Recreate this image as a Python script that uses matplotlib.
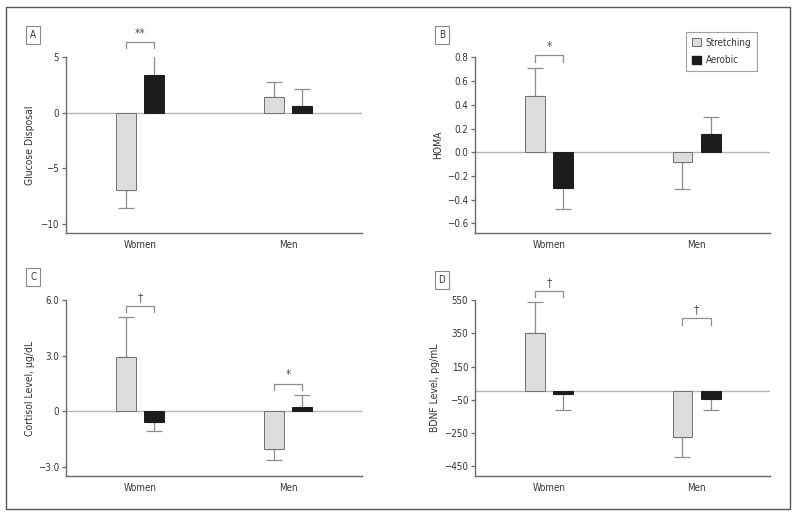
import matplotlib
matplotlib.use("Agg")
import matplotlib.pyplot as plt
from matplotlib.patches import Patch, Rectangle
import numpy as np

plt.rcParams['font.family'] = ['DejaVu Sans']
plt.rcParams['font.stretch'] = 'condensed'
plt.rcParams['font.size'] = 7

groups = ["Women", "Men"]
series = ["Stretching", "Aerobic"]

# Panel A: Glucose Disposal
a_stretch = [-7.0, 1.41]
a_stretch_err = [1.62, 1.35]
a_aerobic = [3.36, 0.57]
a_aerobic_err = [2.04, 1.56]
a_ticks = [5, 0, -5, -10]
a_ticklabels = ["5", "0", "\u22125", "\u221210"]

# Panel B: HOMA
b_stretch = [0.47, -0.084]
b_stretch_err = [0.24, 0.227]
b_aerobic = [-0.30, 0.156]
b_aerobic_err = [0.18, 0.138]
b_ticks = [0.8, 0.6, 0.4, 0.2, 0.0, -0.2, -0.4, -0.6]
b_ticklabels = ["0.8", "0.6", "0.4", "0.2", "0.0", "\u22120.2", "\u22120.4", "\u22120.6"]

# Panel C: Cortisol
c_stretch = [2.96, -2.02]
c_stretch_err = [2.16, 0.59]
c_aerobic = [-0.56, 0.23]
c_aerobic_err = [0.52, 0.67]
c_ticks = [6.0, 3.0, 0, -3.0]
c_ticklabels = ["6.0", "3.0", "0", "\u22123.0"]

# Panel D: BDNF
d_stretch = [355, -278]
d_stretch_err = [185, 117]
d_aerobic = [-14, -44]
d_aerobic_err = [100, 71]
d_ticks = [550, 350, 150, -50, -250, -450]
d_ticklabels = ["550", "350", "150", "\u221250", "\u2212250", "\u2212450"]

# significance brackets: (group index, bracket top, leg bottom, symbol)
a_sig = [(0, 6.4, 5.83, "**")]
b_sig = [(0, 0.818, 0.76, "*")]
c_sig = [(0, 5.69, 5.37, "\u2020"), (1, 1.50, 1.14, "*")]
d_sig = [(0, 608, 571, "\u2020"), (1, 442, 403, "\u2020")]

LIGHT = "#dcdcdc"
DARK = "#1c1c1c"
EDGE = "#707070"
AXC = "#6a6a6a"
ERRC = "#8c8c8c"

fig = plt.figure(figsize=(8.0, 5.14), dpi=100)

H = 0.3418
positions = {
    "A": [0.0825, 0.5467, 0.37, H],
    "B": [0.594, 0.5467, 0.369, H],
    "C": [0.0825, 0.0739, 0.37, H],
    "D": [0.594, 0.0739, 0.369, H],
}

panels = [
    ("A", a_stretch, a_stretch_err, a_aerobic, a_aerobic_err, a_ticks, a_ticklabels, (-10.85, 5.0), "Glucose Disposal", a_sig),
    ("B", b_stretch, b_stretch_err, b_aerobic, b_aerobic_err, b_ticks, b_ticklabels, (-0.68, 0.8), "HOMA", b_sig),
    ("C", c_stretch, c_stretch_err, c_aerobic, c_aerobic_err, c_ticks, c_ticklabels, (-3.5, 6.0), "Cortisol Level, \u03bcg/dL", c_sig),
    ("D", d_stretch, d_stretch_err, d_aerobic, d_aerobic_err, d_ticks, d_ticklabels, (-512, 550), "BDNF Level, pg/mL", d_sig),
]

label_pos = {"A": (-0.111, 1.127), "B": (-0.113, 1.127), "C": (-0.111, 1.133), "D": (-0.113, 1.115)}
ylabel_x = {"A": -0.105, "B": -0.11, "C": -0.105, "D": -0.12}

bw = 0.132
off = 0.096
x = np.arange(len(groups))

for name, s, se, a, ae, ticks, tlabels, ylim, ylabel, sigs in panels:
    ax = fig.add_axes(positions[name])
    ax.axhline(0, color="#b4b4b4", lw=1.0, zorder=1)
    xs = x - off
    xa = x + off
    ax.bar(xs, s, width=bw, color=LIGHT, edgecolor=EDGE, linewidth=0.7, zorder=3)
    ax.bar(xa, a, width=bw, color=DARK, edgecolor=DARK, linewidth=0.7, zorder=3)
    for xx, vals, errs in ((xs, s, se), (xa, a, ae)):
        for xi, v, e in zip(xx, vals, errs):
            lo, hi = (0, e) if v >= 0 else (e, 0)
            ax.errorbar([xi], [v], yerr=[[lo], [hi]], fmt="none", ecolor=ERRC,
                        elinewidth=0.9, capsize=6, capthick=0.9, zorder=2)
    for gi, top, leg, sym in sigs:
        x0, x1 = gi - off, gi + off
        ax.plot([x0, x0, x1, x1], [leg, top, top, leg], color=ERRC, lw=0.9, clip_on=False)
        ax.annotate(sym, xy=(gi, top), xytext=(0, 1.5), textcoords="offset points",
                    ha="center", va="bottom", fontsize=8.5, color="#555555", annotation_clip=False)
    ax.set_xlim(-0.5, 1.5)
    ax.set_ylim(*ylim)
    ax.set_xticks(x)
    ax.set_xticklabels(groups)
    ax.set_yticks(ticks)
    ax.set_yticklabels(tlabels)
    ax.tick_params(axis="x", length=0, pad=5, colors="#333333", labelsize=7)
    ax.tick_params(axis="y", length=3, width=0.9, color=AXC, pad=2, labelsize=7, labelcolor="#333333")
    for sp in ("top", "right"):
        ax.spines[sp].set_visible(False)
    for sp in ("left", "bottom"):
        ax.spines[sp].set_color(AXC)
        ax.spines[sp].set_linewidth(1.0)
    ax.set_ylabel(ylabel, fontsize=7.5, color="#333333")
    ax.yaxis.set_label_coords(ylabel_x[name], 0.5)
    lx, ly = label_pos[name]
    ax.text(lx, ly, name, transform=ax.transAxes, ha="center", va="center", fontsize=7,
            color="#333333",
            bbox=dict(boxstyle="square,pad=0.4", facecolor="white", edgecolor="#888888", linewidth=0.8))
    if name == "B":
        handles = [Patch(facecolor=LIGHT, edgecolor=EDGE, linewidth=0.7, label=series[0]),
                   Patch(facecolor=DARK, edgecolor=DARK, label=series[1])]
        leg = ax.legend(handles=handles, loc="upper right", bbox_to_anchor=(0.972, 1.172),
                        frameon=True, fancybox=False, fontsize=7, handlelength=0.9,
                        handleheight=0.9, handletextpad=0.5, borderpad=0.6, labelspacing=0.75)
        leg.get_frame().set_edgecolor("#888888")
        leg.get_frame().set_linewidth(0.8)
        for t in leg.get_texts():
            t.set_color("#333333")

fig.patches.append(Rectangle((6 / 800, 1 - 509 / 514), 784 / 800, 502 / 514,
                             transform=fig.transFigure, fill=False, edgecolor="#555555",
                             linewidth=1.0))

fig.savefig("out.png", dpi=100)
